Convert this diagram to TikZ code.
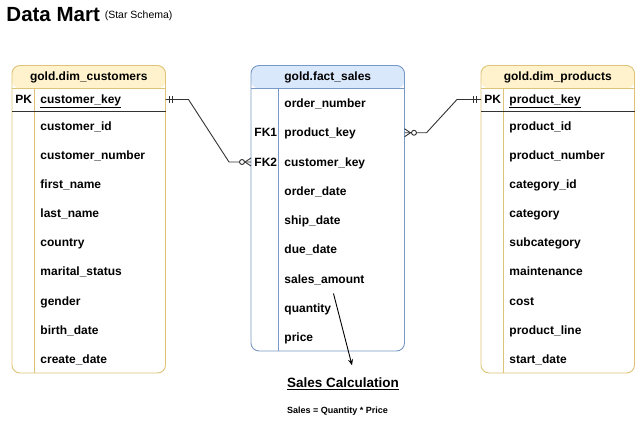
\documentclass[tikz,border=0pt]{standalone}
\usepackage{fontspec}
\setmainfont{Liberation Sans}
\usepackage{tikz}
\usetikzlibrary{calc,positioning,arrows.meta}
\definecolor{dimfill}{RGB}{255,242,204}
\definecolor{dimline}{RGB}{222,196,118}
\definecolor{factfill}{RGB}{218,232,252}
\definecolor{factline}{RGB}{120,152,198}
\definecolor{linkgray}{RGB}{51,51,51}
\tikzstyle{tablebox}=[draw,fill=white,rounded corners=8pt,inner sep=0pt,outer sep=0pt,anchor=north west,minimum width=153.5pt]
\tikzstyle{tablehead}=[inner sep=0pt,font=\fontsize{12}{14}\selectfont\bfseries]
\tikzstyle{field}=[anchor=base west,inner sep=0pt,text height=8pt,text depth=0pt,font=\fontsize{12}{14}\selectfont\bfseries]
\tikzstyle{link}=[draw=linkgray,line width=0.9pt]
\tikzset{headfill/.style={path picture={\fill[#1] (path picture bounding box.north west) rectangle ([yshift=-23pt]path picture bounding box.north east);}}}

\begin{document}
\begin{tikzpicture}[x=1pt,y=-1pt,line width=0.9pt]
\useasboundingbox (0,0) rectangle (635,447);

% title
\node[anchor=base west,inner sep=0pt,font=\fontsize{20.5}{24}\selectfont\bfseries] (title) at (6,21) {Data Mart};
\node[anchor=base west,inner sep=0pt,font=\fontsize{10.5}{12}\selectfont] (subtitle) at ([xshift=4pt,yshift=3pt]title.base east) {(Star Schema)};

% tables
\node[tablebox,draw=dimline,headfill=dimfill,minimum height=307.5pt] (custbox) at (12,65.5) {};
\node[tablebox,draw=factline,headfill=factfill,minimum height=285.5pt] (factbox) at (251,65.5) {};
\node[tablebox,draw=dimline,headfill=dimfill,minimum height=307.5pt] (prodbox) at (481,65.5) {};
\foreach \t/\c/\k in {custbox/dimline/22,factbox/factline/27,prodbox/dimline/22} {
  \draw[\c] ([yshift=-23pt]\t.north west) -- ([yshift=-23pt]\t.north east);
  \draw[\c] ([xshift=\k pt,yshift=-23pt]\t.north west) -- ([xshift=\k pt]\t.south west);
}
\node[tablehead] (cust) at ([yshift=-11.5pt]custbox.north) {gold.dim\_customers};
\node[tablehead] (fact) at ([yshift=-11.5pt]factbox.north) {gold.fact\_sales};
\node[tablehead] (prod) at ([yshift=-11.5pt]prodbox.north) {gold.dim\_products};

% gold.dim_customers
\node[field] (custpk) at (15,103.5) {PK};
\node[field] (custkey) at (40,103.5) {\underline{customer\_key}};
\draw[linkgray] ([yshift=-45.5pt]custbox.north west) -- ([yshift=-45.5pt]custbox.north east);
\foreach \f [count=\i] in {customer\_id,customer\_number,first\_name,last\_name,country,marital\_status,gender,birth\_date,create\_date}
  \node[field] (cust-\i) at (40,{101.2+29.125*\i}) {\f};

% gold.fact_sales
\node[field] (fk1) at (254,136.75) {FK1};
\node[field] (fk2) at (254,166) {FK2};
\foreach \f [count=\i] in {order\_number,product\_key,customer\_key,order\_date,ship\_date,due\_date,sales\_amount,quantity,price}
  \node[field] (fact-\i) at (284,{78.25+29.25*\i}) {\f};

% gold.dim_products
\node[field] (prodpk) at (484,103.5) {PK};
\node[field] (prodkey) at (509,103.5) {\underline{product\_key}};
\draw[linkgray] ([yshift=-45.5pt]prodbox.north west) -- ([yshift=-45.5pt]prodbox.north east);
\foreach \f [count=\i] in {product\_id,product\_number,category\_id,category,subcategory,maintenance,cost,product\_line,start\_date}
  \node[field] (prod-\i) at (509,{101.2+29.125*\i}) {\f};

% relations
\coordinate (custout) at (custbox.east |- custkey);
\coordinate (factin) at (factbox.west |- fk2);
\coordinate (factout) at (factbox.east |- fk1);
\coordinate (prodin) at (prodbox.west |- prodkey);
\draw[link] (custout) -- ++(23,0) -- ($(factin)+(-22,0)$) -- (factin);
\draw[link] (factout) -- ++(22,0) -- ($(prodin)+(-24,0)$) -- (prodin);
\draw[link] ([xshift=3.5pt,yshift=3.5pt]custout) -- ([xshift=3.5pt,yshift=-3.5pt]custout)
  ([xshift=6.5pt,yshift=3.5pt]custout) -- ([xshift=6.5pt,yshift=-3.5pt]custout);
\draw[link] ([xshift=-5pt,yshift=3.5pt]prodin) -- ([xshift=-5pt,yshift=-3.5pt]prodin)
  ([xshift=-7.5pt,yshift=3.5pt]prodin) -- ([xshift=-7.5pt,yshift=-3.5pt]prodin);
\draw[link] ([yshift=4pt]factin) -- ([xshift=-6pt]factin) -- ([yshift=-4pt]factin);
\draw[link,fill=white] ([xshift=-9pt]factin) circle (2.5pt);
\draw[link] ([yshift=4pt]factout) -- ([xshift=6pt]factout) -- ([yshift=-4pt]factout);
\draw[link,fill=white] ([xshift=9.5pt]factout) circle (2.5pt);

% sales calculation
\node[anchor=base,inner sep=0pt,font=\fontsize{13.5}{16}\selectfont\bfseries] (calc) at (343,387.5) {\underline{Sales Calculation}};
\node[anchor=base,inner sep=0pt,font=\fontsize{9}{11}\selectfont\bfseries] (formula) at (337.5,413) {Sales = Quantity * Price};
\draw[line width=0.9pt,-{Stealth[length=6pt,width=5pt]}] ([xshift=9pt,yshift=-10pt]fact-7.south) -- ([xshift=9pt,yshift=12pt]calc.north);
\end{tikzpicture}
\end{document}
